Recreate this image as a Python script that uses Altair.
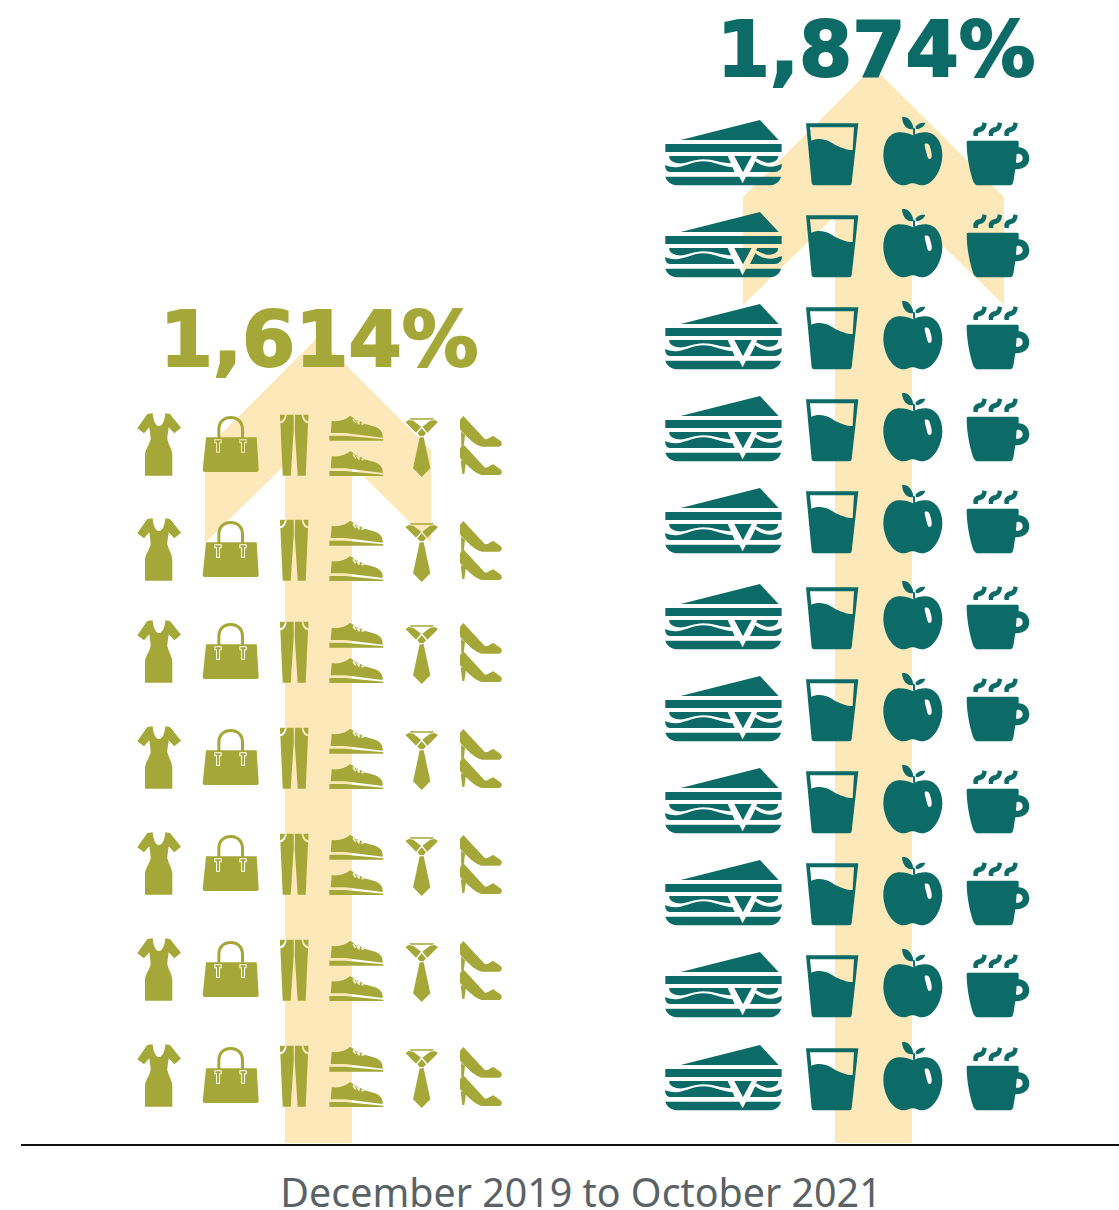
import re
import altair as alt
import pandas as pd

# Categories, drawn left to right in each block
clothing = ["dress", "bag", "pants", "shoes", "tie", "heels"]
food = ["sandwich", "glass", "apple", "cup"]
clothing_rows = 7
food_rows = 11
headlines = ["1,614%", "1,874%"]
period = "December 2019 to October 2021"

OLIVE = "#A5A838"
TEAL = "#0C6B66"
ARROW = "#FDE8BA"
GREY = "#5A6265"

# Screen slots used by the position scales
column_px = [159, 230.7, 294.2, 356.7, 421.7, 481, 723.3, 832, 913, 998, 318, 873]
row_px = [445, 550, 652, 758, 864, 970, 1076,
          153, 245, 337, 429, 521, 617, 709, 801, 893, 985, 1078,
          337, 67]

# Every glyph shares one symbol box; paths are normalised to it
BOX = 1200


def unit(d, ox, oy, k=1 / 3):
    """Recentre a drawing (x,y pairs, absolute commands) and scale it to the symbol box."""
    nums = iter(range(10 ** 6))

    def conv(m):
        i = next(nums)
        v = float(m.group())
        v = (v - (ox if i % 2 == 0 else oy)) * k / (BOX / 2)
        return f"{v:.5f}"

    return re.sub(r"-?\d+\.?\d*", conv, d)


DRESS = ("M98,40 C100,62 106,78 117,78 C128,78 134,62 136,40 L150,42 L183,83 L163,100 L146,82 "
         "C144,100 142,108 142,118 C146,135 157,150 157,165 L157,227 L75,227 L75,165 "
         "C75,150 88,135 92,118 C92,108 90,100 88,82 L72,100 L52,85 L82,42 Z")

BAG = ("M258,112 L410,112 L416,210 Q416,216 410,216 L254,216 Q248,216 248,210 Z "
       "M283,118 L283,130 L288,130 L288,158 L300,158 L300,130 L305,130 L305,118 Z "
       "M286,121 L302,121 L302,127 L297,127 L297,155 L291,155 L291,127 L286,127 Z "
       "M358,118 L358,130 L363,130 L363,158 L375,158 L375,130 L380,130 L380,118 Z "
       "M361,121 L377,121 L377,127 L372,127 L372,155 L366,155 L366,127 L361,127 Z "
       "M292,114 L292,88 C292,62 310,48 332,48 C354,48 372,62 372,88 L372,114 L363,114 "
       "L363,88 C363,68 350,57 332,57 C314,57 301,68 301,88 L301,114 Z")

PANTS = ("M500,44 L521,44 L521,90 L512,227 L488,227 L481,70 C492,68 499,58 500,44 Z "
         "M480,44 L495,44 C494,54 488,62 480,64 Z "
         "M525,44 L545,44 C546,58 553,68 564,70 L557,227 L533,227 L524,90 Z "
         "M550,44 L565,44 L565,64 C557,62 551,54 550,44 Z")

SHOE = ("M635,63 C660,65 675,60 690,48 L696,50 C705,60 715,65 723,70 C750,76 788,80 788,108 "
        "L788,113 L675,99 L632,99 Z "
        "M697,58 L705,70 L709,68 L701,56 Z M708,62 L716,74 L720,72 L712,60 Z "
        "M719,66 L727,76 L731,74 L723,64 Z "
        "M628,107 L675,107 L790,118 L790,122 L628,122 Z")

TIE = ("M868,55 L942,55 L938,59 L872,59 Z "
       "M866,60 L880,62 L903,80 L888,98 L856,66 Z "
       "M944,60 L930,62 L907,80 L922,98 L954,66 Z "
       "M905,85 L918,100 L911,108 L899,108 L892,100 Z "
       "M899,112 L911,112 L931,205 L905,231 L879,205 Z")

HEEL = ("M1030,48 L1095,118 C1105,118 1112,110 1120,108 L1143,124 C1147,130 1146,138 1138,140 "
        "L1085,140 C1065,135 1042,112 1023,92 L1020,88 L1020,60 Z")
HEEL_POST_TOP = "M1023,95 L1035,105 L1032,132 L1024,144 Z"
HEEL_POST_LOW = "M1022,180 L1038,188 L1033,222 L1027,222 Z"

SANDWICH = ("M92,120 L330,60 L386,120 Z M46,132 L395,132 L395,156 L46,156 Z "
            "M58,168 L233,168 L243,190 C215,190 190,178 160,178 C130,178 110,192 85,190 "
            "C70,188 62,182 58,175 Z "
            "M46,195 C55,200 70,203 85,201 C110,198 130,184 160,184 C190,184 215,200 248,202 "
            "L254,216 L60,216 C50,216 44,205 46,195 Z "
            "M253,168 L305,168 L279,217 Z "
            "M322,168 L384,168 L384,175 C378,185 365,190 350,188 C340,186 325,178 318,175 Z "
            "M316,184 C330,195 345,200 360,200 C375,200 388,195 395,192 C398,205 388,216 375,216 "
            "L300,216 Z "
            "M46,230 L268,230 L278,250 L288,230 L393,230 C390,245 375,256 358,256 L85,256 "
            "C65,256 50,245 46,230 Z")

GLASS = ("M468,70 L625,70 L605,250 Q604,256 598,256 L492,256 Q486,256 485,250 Z "
         "M480,82 L484,122 C500,115 520,115 540,125 C560,138 585,150 608,150 L612,82 Z")

APPLE = ("M790,106 C775,100 760,96 745,97 C715,100 700,130 700,165 C700,205 725,256 762,256 "
         "C772,256 778,250 788,250 C798,250 805,256 815,256 C852,256 877,205 877,165 "
         "C877,130 860,100 830,97 C815,96 800,100 790,106 Z "
         "M824,132 C834,128 839,135 841,145 C844,155 847,165 844,174 C838,180 833,176 831,165 "
         "C829,155 824,145 824,132 Z "
         "M756,52 C772,48 787,62 791,87 C775,92 758,80 756,52 Z "
         "M796,80 C805,70 815,66 826,69 C823,79 810,87 799,88 Z "
         "M789,85 L795,85 L795,104 L789,104 Z")

CUP = ("M950,126 Q950,122 955,122 L1101,122 Q1106,122 1106,126 L1106,142 C1125,142 1138,158 1138,175 "
       "C1138,195 1122,208 1098,208 L1096,208 L1090,245 Q1088,256 1078,256 L985,256 Q975,256 970,245 "
       "C958,210 950,165 950,126 Z "
       "M1100,162 L1098,188 C1108,190 1118,185 1118,175 C1118,165 1110,160 1100,162 Z")
STEAM = ("M971,108 L984,108 C982,99 986,97 991,96 C1004,94 1009,84 1010,70 L997,67 "
         "C997,77 994,81 987,82 C974,84 967,95 971,108 Z")

ARROW_LEFT = ("M0,0 L113,113 L113,206 L34,128 L34,806 L-33,806 L-33,128 L-113,206 L-113,113 Z")
ARROW_RIGHT = ("M0,0 L131,130 L131,238 L39,149 L39,1076 L-38,1076 L-38,149 L-130,238 L-130,130 Z")

shapes = {
    "arrow left": unit(ARROW_LEFT, 0, 0, 1),
    "arrow right": unit(ARROW_RIGHT, 0, 0, 1),
    "dress": unit(DRESS, 117, 135),
    "bag": unit(BAG, 332, 135),
    "pants": unit(PANTS, 522.5, 135),
    "shoes": unit(SHOE, 710, 135) + " " + unit(SHOE, 710, 135 - 106),
    "tie": unit(TIE, 905, 135),
    "heels": " ".join([unit(HEEL, 1083, 135), unit(HEEL_POST_TOP, 1083, 135),
                       unit(HEEL, 1083, 135 - 85), unit(HEEL_POST_LOW, 1083, 135)]),
    "sandwich": unit(SANDWICH, 220, 159),
    "glass": unit(GLASS, 546, 159),
    "apple": unit(APPLE, 789, 159),
    "cup": " ".join([unit(CUP, 1044, 159), unit(STEAM, 1044, 159),
                     unit(STEAM, 1044 - 46, 159), unit(STEAM, 1044 - 93, 159)]),
}

rows = [
    {"item": "arrow left", "col": 10, "row": 18, "tone": "arrow"},
    {"item": "arrow right", "col": 11, "row": 19, "tone": "arrow"},
]
for r in range(clothing_rows):
    for c, name in enumerate(clothing):
        rows.append({"item": name, "col": c, "row": r, "tone": "clothing"})
for r in range(food_rows):
    for c, name in enumerate(food):
        rows.append({"item": name, "col": c + len(clothing), "row": r + clothing_rows, "tone": "food"})
table = pd.DataFrame(rows)
table["order"] = range(len(table))

glyphs = alt.Chart(table).mark_point(filled=True, size=BOX * BOX, opacity=1, strokeWidth=0).encode(
    x=alt.X("col:Q", axis=None, scale=alt.Scale(domain=list(range(len(column_px))), range=column_px)),
    y=alt.Y("row:Q", axis=None, scale=alt.Scale(domain=list(range(len(row_px))), range=row_px)),
    shape=alt.Shape("item:N", legend=None,
                    scale=alt.Scale(domain=list(shapes), range=list(shapes.values()))),
    color=alt.Color("tone:N", legend=None,
                    scale=alt.Scale(domain=["arrow", "clothing", "food"], range=[ARROW, OLIVE, TEAL])),
    order="order:Q",
)

baseline = alt.Chart(pd.DataFrame({"a": [0]})).mark_rule(color="#111111", strokeWidth=2).encode(
    x=alt.value(21), x2=alt.value(1119), y=alt.value(1145)
)

head_left = alt.Chart(pd.DataFrame({"t": [headlines[0]]})).mark_text(
    font="DejaVu Sans", fontWeight="bold", fontSize=76.5, color=OLIVE, baseline="alphabetic",
    stroke=OLIVE, strokeWidth=2
).encode(text="t:N", x=alt.value(319), y=alt.value(366))

head_right = alt.Chart(pd.DataFrame({"t": [headlines[1]]})).mark_text(
    font="DejaVu Sans", fontWeight="bold", fontSize=76.5, color=TEAL, baseline="alphabetic",
    stroke=TEAL, strokeWidth=2
).encode(text="t:N", x=alt.value(876), y=alt.value(76))

caption = alt.Chart(pd.DataFrame({"t": [period]})).mark_text(
    font="Noto Sans", fontSize=39.4, color=GREY, baseline="alphabetic"
).encode(text="t:N", x=alt.value(581), y=alt.value(1207))

chart = alt.layer(glyphs, baseline, head_left, head_right, caption).properties(
    width=1119, height=1210, padding=0,
    autosize=alt.AutoSizeParams(type="none"),
).configure_view(stroke=None)

chart.save("out.html", embed_options={"renderer": "svg", "actions": False})
